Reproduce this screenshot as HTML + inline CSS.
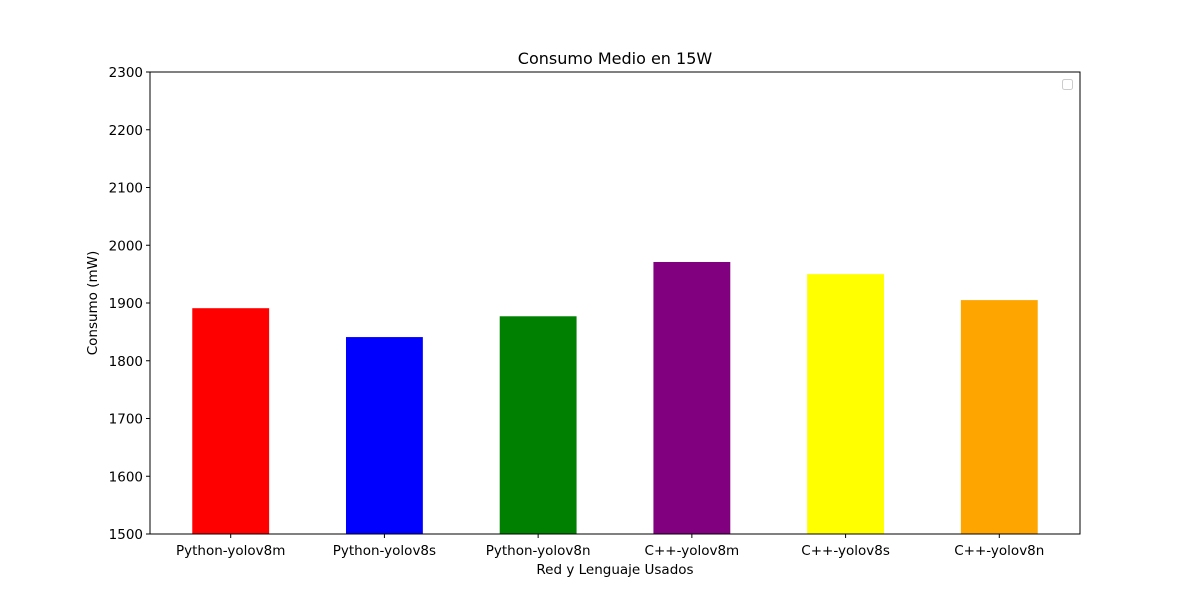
<!DOCTYPE html>
<html><head><meta charset="utf-8"><style>
body{margin:0;background:#fff;}
svg{display:block;font-family:"DejaVu Sans","Liberation Sans",sans-serif;}
</style></head><body>
<svg id="chart" width="1200" height="600" viewBox="0 0 1200 600">
<rect width="1200" height="600" fill="#fff"/>
<text x="615" y="64" text-anchor="middle" font-size="16">Consumo Medio en 15W</text>
<g id="bars"></g>
<g id="yticks"></g>
<g id="xticks"></g>
<rect x="150" y="72" width="930" height="462" fill="none" stroke="#000" stroke-width="1"/>
<rect x="1062.5" y="79.5" width="10" height="10" rx="2" fill="#fff" stroke="#ccc"/>
<text x="615" y="574" text-anchor="middle" font-size="13.5">Red y Lenguaje Usados</text>
<text x="97" y="303" text-anchor="middle" font-size="13.5" transform="rotate(-90 97 303)">Consumo (mW)</text>
</svg>
<script>
const categories=["Python-yolov8m","Python-yolov8s","Python-yolov8n","C++-yolov8m","C++-yolov8s","C++-yolov8n"];
const values=[1891,1841,1877,1971,1950,1905];
const colors=["#ff0000","#0000ff","#008000","#800080","#ffff00","#ffa500"];
const yTicks=[1500,1600,1700,1800,1900,2000,2100,2200,2300];
const NS="http://www.w3.org/2000/svg";
const L=150,R=1080,T=72,B=534,yMin=1500,yMax=2300,xMin=-0.525,xMax=5.525;
const xs=i=>L+(i-xMin)/(xMax-xMin)*(R-L);
const ys=v=>B-(v-yMin)/(yMax-yMin)*(B-T);
const bw=0.5*(R-L)/(xMax-xMin);
function mk(t,a){const e=document.createElementNS(NS,t);for(const k in a)e.setAttribute(k,a[k]);return e;}
const gb=document.getElementById('bars'),gy=document.getElementById('yticks'),gx=document.getElementById('xticks');
values.forEach((v,i)=>{
 const r=mk('rect',{x:xs(i)-bw/2,y:ys(v),width:bw,height:B-ys(v),fill:colors[i]});
 
 
 gb.appendChild(r);
});
yTicks.forEach(t=>{
 const y=ys(t);
 const l=mk('line',{x1:L-4,x2:L,y1:y,y2:y,stroke:'#000'});
 
 
 gy.appendChild(l);
 const tx=mk('text',{x:L-7,y:y+5,'text-anchor':'end','font-size':'13.5'});
 tx.textContent=t;
 
 
 gy.appendChild(tx);
});
categories.forEach((c,i)=>{
 const x=xs(i);
 const l=mk('line',{x1:x,x2:x,y1:B,y2:B+4,stroke:'#000'});
 
 
 gx.appendChild(l);
 const tx=mk('text',{x:x,y:B+21,'text-anchor':'middle','font-size':'13.5'});
 tx.textContent=c;
 
 
 gx.appendChild(tx);
});
</script>
</body></html>
